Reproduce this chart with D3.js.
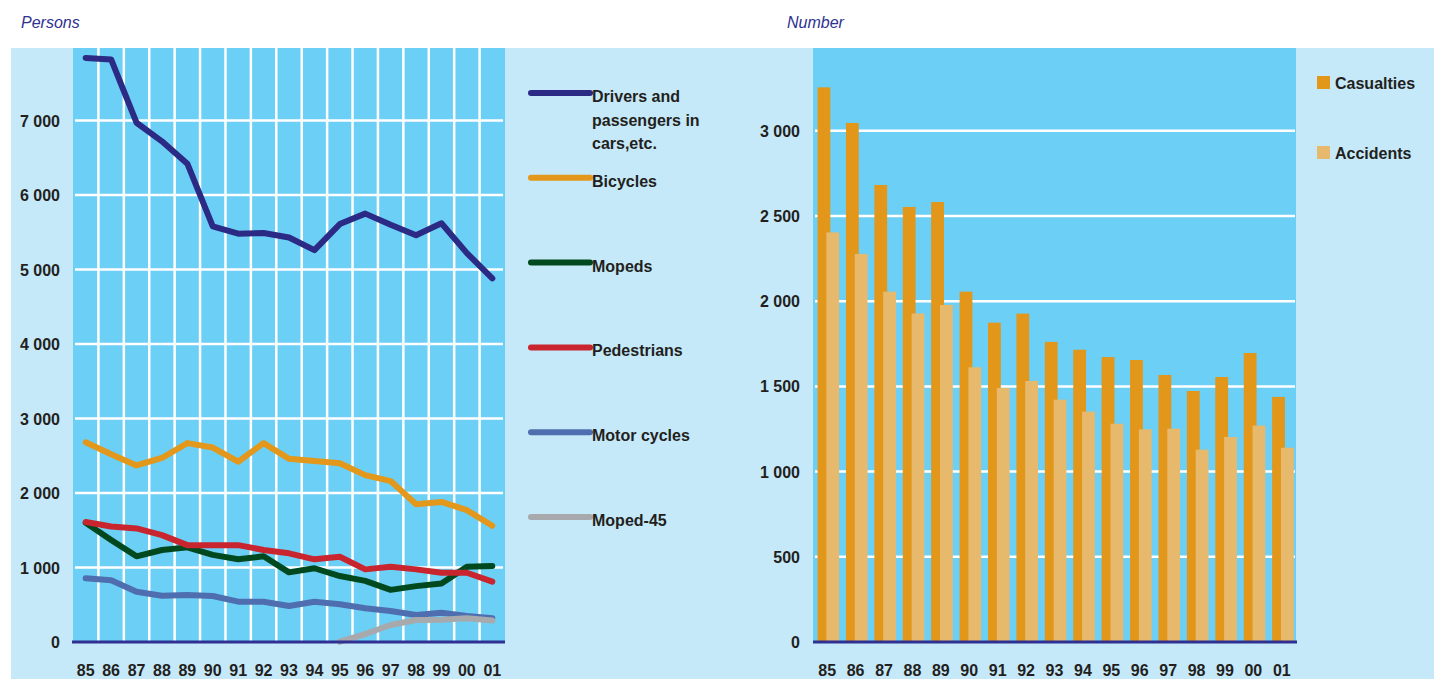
<!DOCTYPE html>
<html>
<head>
<meta charset="utf-8">
<script src="https://cdn.jsdelivr.net/npm/d3@7"></script>
<style>
  body { margin: 0; background: #ffffff; }
  svg text { font-family: "Liberation Sans", Arial, sans-serif; }
</style>
</head>
<body>
<div id="chart"></div>
<script>
// years shared by both panels
const years = ['85', '86', '87', '88', '89', '90', '91', '92', '93', '94', '95', '96', '97', '98', '99', '00', '01'];

// left panel: killed and injured persons by road user group
const drivers = [7840, 7820, 6970, 6720, 6420, 5580, 5480, 5490, 5430, 5260, 5610, 5750, 5600, 5460, 5620, 5220, 4880];
const bicycles = [2680, 2520, 2370, 2470, 2670, 2610, 2420, 2670, 2460, 2430, 2400, 2240, 2160, 1850, 1880, 1770, 1560];
const mopeds = [1600, 1370, 1150, 1235, 1270, 1170, 1110, 1150, 935, 990, 885, 820, 700, 750, 785, 1010, 1020];
const pedestrians = [1610, 1550, 1525, 1435, 1300, 1300, 1300, 1235, 1190, 1110, 1145, 975, 1010, 975, 930, 930, 810];
const motorCycles = [855, 830, 675, 622, 630, 617, 541, 541, 483, 541, 506, 452, 416, 362, 393, 349, 318];
const moped45 = [null, null, null, null, null, null, null, null, null, null, 5, 107, 228, 295, 300, 318, 290];
const leftTicks = [0, 1000, 2000, 3000, 4000, 5000, 6000, 7000];

// right panel
const casualties = [3255, 3046, 2682, 2553, 2582, 2056, 1874, 1927, 1761, 1715, 1672, 1655, 1567, 1473, 1555, 1696, 1438];
const accidents = [2404, 2277, 2056, 1928, 1978, 1612, 1491, 1532, 1422, 1352, 1281, 1248, 1252, 1129, 1203, 1270, 1140];
const rightTicks = [0, 500, 1000, 1500, 2000, 2500, 3000];

const width = 1434;
const height = 679;
const outerBg = '#c6e9f9';
const plotBg = '#6ccff5';
const textCol = '#231f20';
const titleCol = '#2e3192';
const axisCol = '#2e3192';

const fmt = (v) => d3.format(',')(v).replace(',', ' ');

const svg = d3.select('#chart')
  .append('svg')
  .attr('width', width)
  .attr('height', height);

svg.append('rect')
  .attr('x', 11).attr('y', 48)
  .attr('width', width - 11).attr('height', height - 48)
  .attr('fill', outerBg);

// ---------- left chart ----------
const xL = d3.scaleBand().domain(years).range([73, 505]).padding(0);
const yL = d3.scaleLinear().domain([0, 8000]).range([642, 46]);
const bwL = xL.bandwidth();

svg.append('rect')
  .attr('x', 73).attr('y', 48)
  .attr('width', 505 - 73).attr('height', 642 - 48)
  .attr('fill', plotBg);

// vertical grid between years
svg.append('g')
  .selectAll('line')
  .data(years.slice(1))
  .join('line')
  .attr('x1', (d) => xL(d)).attr('x2', (d) => xL(d))
  .attr('y1', 48).attr('y2', 642)
  .attr('stroke', '#ffffff')
  .attr('stroke-width', 2.5);

svg.append('g')
  .selectAll('line')
  .data(leftTicks.slice(1))
  .join('line')
  .attr('x1', 75).attr('x2', 503)
  .attr('y1', (d) => yL(d)).attr('y2', (d) => yL(d))
  .attr('stroke', '#ffffff')
  .attr('stroke-width', 2.5);

svg.append('g')
  .selectAll('text')
  .data(leftTicks)
  .join('text')
  .attr('x', 60)
  .attr('y', (d) => yL(d) + 6)
  .attr('text-anchor', 'end')
  .attr('font-size', 16)
  .attr('font-weight', 'bold')
  .attr('fill', textCol)
  .text(fmt);

svg.append('g')
  .selectAll('text')
  .data(years)
  .join('text')
  .attr('x', (d) => xL(d) + bwL / 2)
  .attr('y', 676)
  .attr('text-anchor', 'middle')
  .attr('font-size', 16)
  .attr('font-weight', 'bold')
  .attr('fill', textCol)
  .text((d) => d);

const series = [
  { name: ['Drivers and', 'passengers in', 'cars,etc.'], values: drivers, color: '#2b2a85' },
  { name: ['Bicycles'], values: bicycles, color: '#e3971b' },
  { name: ['Mopeds'], values: mopeds, color: '#00491f' },
  { name: ['Pedestrians'], values: pedestrians, color: '#c8252f' },
  { name: ['Motor cycles'], values: motorCycles, color: '#4f6eb0' },
  { name: ['Moped-45'], values: moped45, color: '#a7a9ac' },
];

const line = d3.line()
  .defined((d) => d != null)
  .x((d, i) => xL(years[i]) + bwL / 2)
  .y((d) => yL(d));

const drawOrder = [0, 1, 2, 3, 4, 5];
drawOrder.forEach((k) => {
  const s = series[k];
  svg.append('path')
    .datum(s.values)
    .attr('d', line)
    .attr('fill', 'none')
    .attr('stroke', s.color)
    .attr('stroke-width', 6)
    .attr('stroke-linecap', 'round')
    .attr('stroke-linejoin', 'round');
});

// zero axis
svg.append('line')
  .attr('x1', 72).attr('x2', 505)
  .attr('y1', yL(0)).attr('y2', yL(0))
  .attr('stroke', axisCol)
  .attr('stroke-width', 3);

// legend
const legL = svg.append('g');
series.forEach((s, i) => {
  const ly = 93 + i * 84.8;
  legL.append('line')
    .attr('x1', 531).attr('x2', 590)
    .attr('y1', ly).attr('y2', ly)
    .attr('stroke', s.color)
    .attr('stroke-width', 6)
    .attr('stroke-linecap', 'round');
  s.name.forEach((t, j) => {
    legL.append('text')
      .attr('x', 592)
      .attr('y', ly + 9 + j * 23.5)
      .attr('font-size', 16)
      .attr('font-weight', 'bold')
      .attr('fill', textCol)
      .text(t);
  });
});

svg.append('text')
  .attr('x', 21).attr('y', 28)
  .attr('font-size', 16)
  .attr('font-style', 'italic')
  .attr('fill', titleCol)
  .text('Persons');

// ---------- right chart ----------
const xR = d3.scaleBand().domain(years).range([813, 1296]).padding(0);
const yR = d3.scaleLinear().domain([0, 3500]).range([642, 45.6]);
const bwR = xR.bandwidth();

svg.append('rect')
  .attr('x', 813).attr('y', 48)
  .attr('width', 1296 - 813).attr('height', 642 - 48)
  .attr('fill', plotBg);

svg.append('g')
  .selectAll('line')
  .data(rightTicks.slice(1))
  .join('line')
  .attr('x1', 815).attr('x2', 1295)
  .attr('y1', (d) => yR(d)).attr('y2', (d) => yR(d))
  .attr('stroke', '#ffffff')
  .attr('stroke-width', 2.5);

const barW = bwR * 0.45;

svg.append('g')
  .selectAll('rect')
  .data(casualties)
  .join('rect')
  .attr('x', (d, i) => xR(years[i]) + bwR * 0.16)
  .attr('y', (d) => yR(d))
  .attr('width', barW)
  .attr('height', (d) => yR(0) - yR(d))
  .attr('fill', '#e2961a');

svg.append('g')
  .selectAll('rect')
  .data(accidents)
  .join('rect')
  .attr('x', (d, i) => xR(years[i]) + bwR * 0.47)
  .attr('y', (d) => yR(d))
  .attr('width', barW)
  .attr('height', (d) => yR(0) - yR(d))
  .attr('fill', '#e6b96d');

svg.append('line')
  .attr('x1', 813).attr('x2', 1297)
  .attr('y1', yR(0)).attr('y2', yR(0))
  .attr('stroke', axisCol)
  .attr('stroke-width', 3);

svg.append('g')
  .selectAll('text')
  .data(rightTicks)
  .join('text')
  .attr('x', 800)
  .attr('y', (d) => yR(d) + 6)
  .attr('text-anchor', 'end')
  .attr('font-size', 16)
  .attr('font-weight', 'bold')
  .attr('fill', textCol)
  .text(fmt);

svg.append('g')
  .selectAll('text')
  .data(years)
  .join('text')
  .attr('x', (d) => xR(d) + bwR / 2)
  .attr('y', 676)
  .attr('text-anchor', 'middle')
  .attr('font-size', 16)
  .attr('font-weight', 'bold')
  .attr('fill', textCol)
  .text((d) => d);

const legR = [
  { name: 'Casualties', color: '#e2961a', y: 76 },
  { name: 'Accidents', color: '#e6b96d', y: 146 },
];
legR.forEach((d) => {
  svg.append('rect')
    .attr('x', 1317).attr('y', d.y)
    .attr('width', 13).attr('height', 13)
    .attr('fill', d.color);
  svg.append('text')
    .attr('x', 1335).attr('y', d.y + 12.5)
    .attr('font-size', 16)
    .attr('font-weight', 'bold')
    .attr('fill', textCol)
    .text(d.name);
});

svg.append('text')
  .attr('x', 787).attr('y', 28)
  .attr('font-size', 16)
  .attr('font-style', 'italic')
  .attr('fill', titleCol)
  .text('Number');
</script>
</body>
</html>
